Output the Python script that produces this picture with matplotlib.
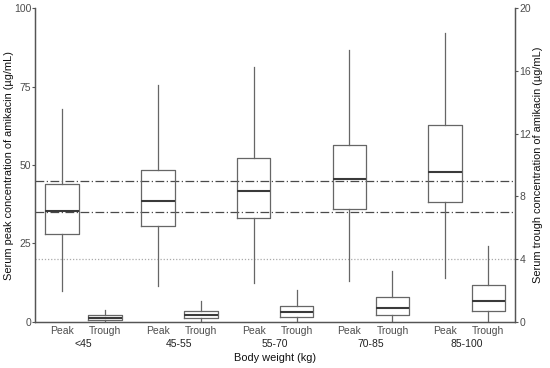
import matplotlib
matplotlib.use('Agg')
import matplotlib.pyplot as plt
import matplotlib.transforms as mtransforms
import numpy as np

plt.rc('font', family='Liberation Sans', size=7)

groups = ['<45', '45-55', '55-70', '70-85', '85-100']

# peak concentration (left axis, ug/mL)
peak_lo = [9.8, 11.4, 12.2, 13.0, 14.0]
peak_q1 = [27.9, 30.6, 33.2, 36.1, 38.3]
peak_med = [35.2, 38.5, 41.8, 45.4, 47.7]
peak_q3 = [44.0, 48.5, 52.3, 56.4, 62.9]
peak_hi = [68.0, 75.5, 81.2, 86.7, 92.3]

# trough concentration (right axis, ug/mL)
trough_lo = [0.0, 0.0, 0.0, 0.0, 0.0]
trough_q1 = [0.11, 0.21, 0.32, 0.45, 0.68]
trough_med = [0.23, 0.40, 0.59, 0.85, 1.31]
trough_q3 = [0.40, 0.67, 1.03, 1.60, 2.36]
trough_hi = [0.74, 1.31, 2.05, 3.23, 4.82]

peak_ref = [45, 35]     # dash-dot target range
trough_ref = [20]       # dotted line (= 4 on the right axis)

box_c = '#666666'
med_c = '#3a3a3a'
txt_c = '#4d4d4d'


def stats(lo, q1, med, q3, hi):
    return [dict(whislo=a, q1=b, med=c, q3=d, whishi=e, fliers=[])
            for a, b, c, d, e in zip(lo, q1, med, q3, hi)]


fig = plt.figure(figsize=(5.5, 3.68), dpi=100)
ax = fig.add_axes([0.0642, 0.126, 0.8727, 0.851])
ax2 = ax.twinx()

g = np.arange(1, len(groups) + 1)
off = 0.225
w = 0.35

kw = dict(widths=w, showcaps=False, showfliers=False,
          boxprops=dict(color=box_c, linewidth=0.9),
          whiskerprops=dict(color=box_c, linewidth=0.9),
          medianprops=dict(color=med_c, linewidth=1.5))

ax.bxp(stats(peak_lo, peak_q1, peak_med, peak_q3, peak_hi), positions=g - off, **kw)
ax2.bxp(stats(trough_lo, trough_q1, trough_med, trough_q3, trough_hi), positions=g + off, **kw)

for v in peak_ref:
    ax.axhline(v, color='#4a4a4a', linewidth=0.9, linestyle=(0, (7, 2, 1, 2)), zorder=0)
for v in trough_ref:
    ax.axhline(v, color='#aaaaaa', linewidth=0.9, linestyle=(0, (1, 1.5)), zorder=0)

ax.set_xlim(0.497, 5.507)
ax.set_ylim(0, 100)
ax2.set_ylim(0, 20)
ax.set_yticks([0, 25, 50, 75, 100])
ax2.set_yticks([0, 4, 8, 12, 16, 20])

pos = np.concatenate([g - off, g + off])
labs = ['Peak'] * len(g) + ['Trough'] * len(g)
ax.set_xticks(pos)
ax.set_xticklabels(labs)
ax2.set_xticks(pos)

for a in (ax, ax2):
    a.spines['top'].set_visible(False)
    for s in ('left', 'right', 'bottom'):
        a.spines[s].set_color('#555555')
        a.spines[s].set_linewidth(0.9)
    a.tick_params(axis='y', length=2, width=0.8, color='#555555', labelcolor=txt_c,
                  labelsize=7.5, pad=1)
    a.tick_params(axis='x', length=0, labelcolor=txt_c, labelsize=7.5, pad=3)

trans = mtransforms.blended_transform_factory(ax.transData, ax.transAxes)
for x, name in zip(g, groups):
    ax.text(x, -0.07, name, transform=trans, ha='center', va='center',
            fontsize=7.5, color='#222222')

ax.set_xlabel('Body weight (kg)', fontsize=7.9, color='#111111')
ax.xaxis.set_label_coords(0.5, -0.115)
ax.xaxis.label.set_va('center')

ax.set_ylabel('Serum peak concentration of amikacin (\u00b5g/mL)', fontsize=7.9, color='#111111')
ax.yaxis.set_label_coords(-0.044, 0.5)
ax2.set_ylabel('Serum trough concentration of amikacin (\u00b5g/mL)', fontsize=7.9,
               color='#111111', rotation=90)
ax2.yaxis.set_label_coords(1.036, 0.5)

fig.savefig('out.png', dpi=100)
